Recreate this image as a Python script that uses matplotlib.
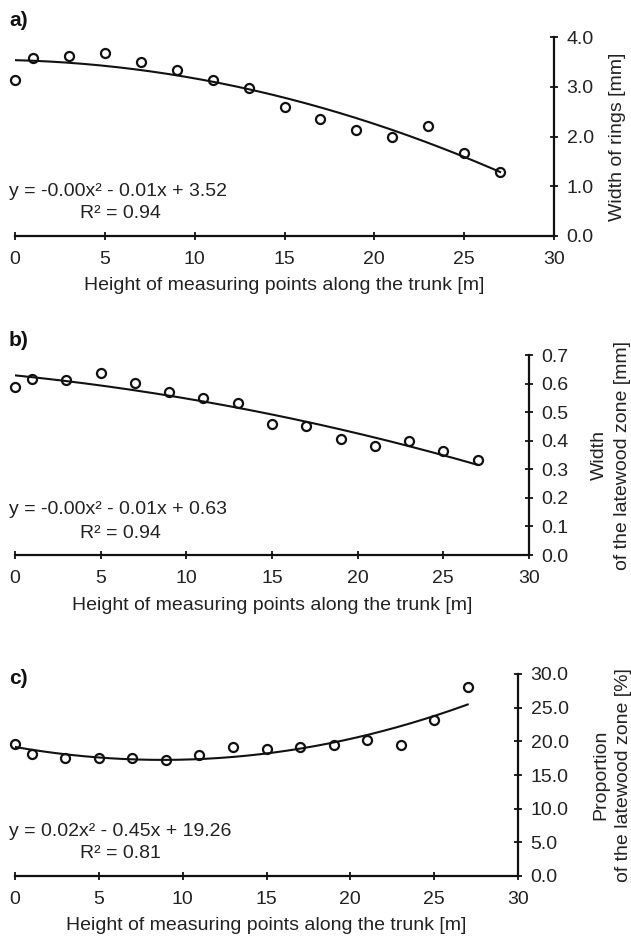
import matplotlib
matplotlib.use("Agg")
import matplotlib.pyplot as plt
import numpy as np

plt.rcParams['font.family'] = ['Liberation Sans', 'DejaVu Sans']

heights = [0, 1, 3, 5, 7, 9, 11, 13, 15, 17, 19, 21, 23, 25, 27]
ring_width = [3.14, 3.58, 3.61, 3.68, 3.50, 3.33, 3.14, 2.97, 2.60, 2.36, 2.13, 2.00, 2.21, 1.66, 1.28]
latewood_width = [0.588, 0.617, 0.611, 0.637, 0.602, 0.570, 0.549, 0.531, 0.457, 0.450, 0.406, 0.382, 0.400, 0.363, 0.331]
latewood_prop = [19.6, 18.1, 17.5, 17.5, 17.5, 17.3, 17.9, 19.1, 18.8, 19.1, 19.4, 20.2, 19.4, 23.1, 28.1]

equations = ['y = -0.00x² - 0.01x + 3.52', 'y = -0.00x² - 0.01x + 0.63', 'y = 0.02x² - 0.45x + 19.26']
r2_texts = ['R² = 0.94', 'R² = 0.94', 'R² = 0.81']
panel_labels = ['a)', 'b)', 'c)']
ylabels = ['Width of rings [mm]', 'Width\nof the latewood zone [mm]', 'Proportion\nof the latewood zone [%]']
xlabel = 'Height of measuring points along the trunk [m]'
ymax = [4.0, 0.7, 30.0]
ystep = [1.0, 0.1, 5.0]

W, H = 631, 936
fig = plt.figure(figsize=(W / 100, H / 100), dpi=100)

# axes boxes in pixels: left, right, top, bottom
boxes = [(15, 554, 37, 236), (15, 529, 355, 555), (15, 518, 674, 876)]
eq_y = [(191, 213), (510, 533), (831, 854)]
lab_y = [21, 340, 679]
ylab_x = [618, 611, 612]
xlab_y = [286, 605, 925]

series = [ring_width, latewood_width, latewood_prop]
fs = 14
col = '#111111'
tcol = '#222222'

for i in range(3):
    l, r, t, b = boxes[i]
    ax = fig.add_axes([l / W, 1 - b / H, (r - l) / W, (b - t) / H])
    x = np.array(heights)
    y = np.array(series[i])
    coef = np.polyfit(x, y, 2)
    xs = np.linspace(0, 27, 200)
    ax.plot(xs, np.polyval(coef, xs), color=col, lw=1.5, zorder=2)
    ax.plot(x, y, 'o', mfc='none', mec=col, mew=1.6, ms=6.5, zorder=3, clip_on=False)

    ax.set_xlim(0, 30)
    ax.set_ylim(0, ymax[i])
    ax.set_xticks(np.arange(0, 31, 5))
    yt = np.arange(0, ymax[i] + ystep[i] / 2, ystep[i])
    ax.set_yticks(yt)
    ax.set_yticklabels(['%.1f' % v for v in yt])
    for s in ['left', 'top']:
        ax.spines[s].set_visible(False)
    for s in ['bottom', 'right']:
        ax.spines[s].set_linewidth(1.6)
        ax.spines[s].set_color(col)
    ax.yaxis.tick_right()
    ax.tick_params(axis='both', direction='inout', length=6, width=1.3, colors=col,
                   labelsize=fs, labelcolor=tcol)
    ax.tick_params(axis='x', pad=8)
    ax.tick_params(axis='y', pad=6)
    ax.patch.set_visible(False)

    fig.text(9 / W, 1 - lab_y[i] / H, panel_labels[i], fontsize=15, fontweight='bold',
             va='center', ha='left', color=col)
    fig.text(9 / W, 1 - eq_y[i][0] / H, equations[i], fontsize=fs, va='center', ha='left', color=tcol)
    fig.text(80 / W, 1 - eq_y[i][1] / H, r2_texts[i], fontsize=fs, va='center', ha='left', color=tcol)
    fig.text((l + r) / 2 / W, 1 - xlab_y[i] / H, xlabel, fontsize=fs, va='center', ha='center', color=tcol)
    fig.text(ylab_x[i] / W, 1 - (t + b) / 2 / H, ylabels[i], fontsize=fs, rotation=90,
             va='center', ha='center', multialignment='center', linespacing=1.4, color=tcol)

fig.savefig('out.png', dpi=100)
